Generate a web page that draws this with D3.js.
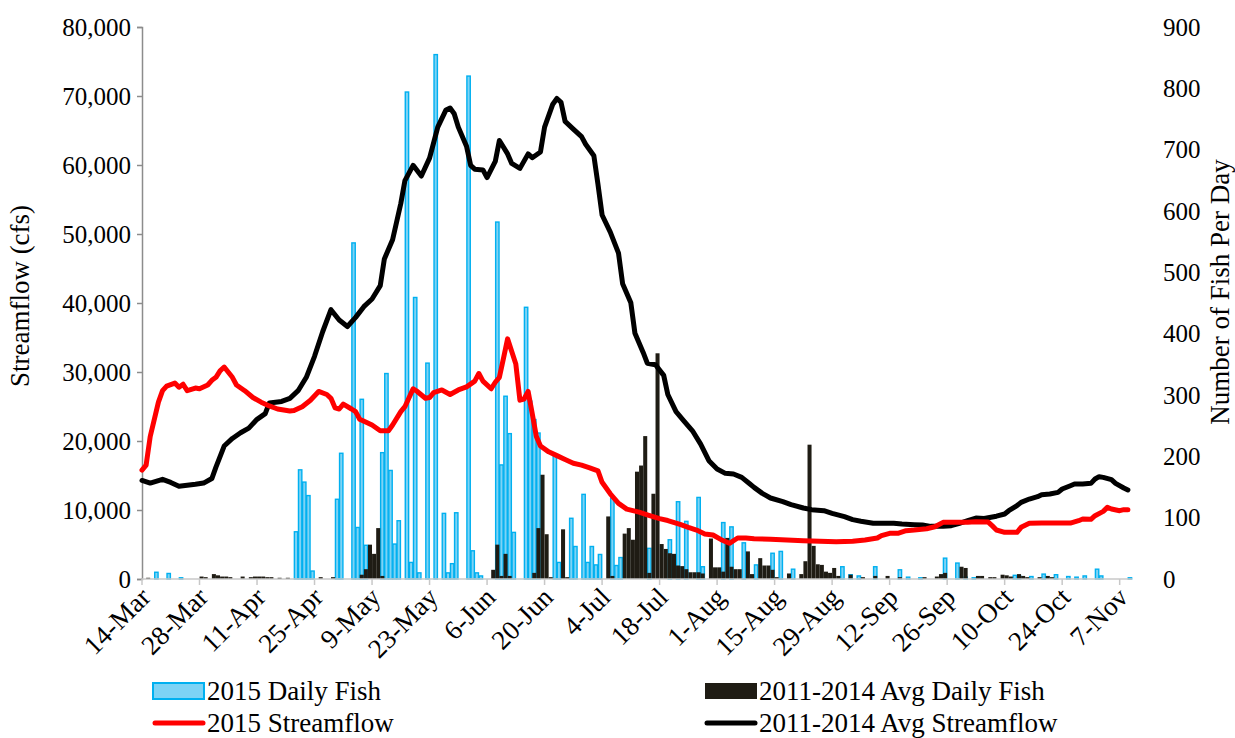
<!DOCTYPE html>
<html lang="en">
  <head>
    <meta charset="UTF-8">
    <title>Daily Fish and Streamflow</title>
    <script src="https://d3js.org/d3.v7.min.js"></script>
    <style>
      body { margin: 0; background: #fff; }
      svg { display: block; font-family: "Liberation Serif", "Times New Roman", serif; }
      .tick text { font-size: 25px; fill: #000; }
    </style>
  </head>
  <body>
  <script>
    // day offsets are counted from 14-Mar
    const tickLabels = ["14-Mar", "28-Mar", "11-Apr", "25-Apr", "9-May", "23-May", "6-Jun",
      "20-Jun", "4-Jul", "18-Jul", "1-Aug", "15-Aug", "29-Aug", "12-Sep", "26-Sep",
      "10-Oct", "24-Oct", "7-Nov"];

    // 2015 daily fish [day, count]
    const fish2015 = [[3, 11], [6, 9], [9, 2], [37, 77], [38, 178], [39, 158], [40, 136], [41, 13],
      [47, 130], [48, 205], [51, 548], [52, 84], [53, 293], [54, 55], [58, 206], [59, 335],
      [60, 177], [61, 57], [62, 95], [64, 794], [65, 27], [66, 459], [67, 10], [69, 352],
      [71, 855], [73, 107], [74, 10], [75, 25], [76, 108], [79, 820], [80, 46], [81, 10],
      [82, 5], [86, 582], [87, 186], [88, 298], [89, 237], [90, 76], [93, 443], [94, 290],
      [95, 260], [96, 238], [100, 200], [101, 27], [104, 99], [105, 53], [107, 138], [108, 27],
      [109, 53], [110, 23], [111, 40], [114, 132], [115, 22], [116, 35], [123, 50], [128, 64],
      [130, 126], [132, 94], [135, 133], [136, 20], [141, 92], [143, 85], [146, 59], [149, 23],
      [153, 42], [155, 45], [158, 16], [170, 20], [172, 7], [174, 5], [178, 20], [184, 15],
      [186, 3], [189, 2], [195, 34], [198, 26], [200, 3], [202, 2], [212, 6], [213, 5],
      [216, 4], [219, 8], [222, 7], [225, 4], [227, 3], [229, 5], [232, 16], [233, 5], [240, 2]];

    // 2011-2014 average daily fish [day, count]
    const fishAvg = [[1, 2], [14, 4], [15, 3], [17, 8], [18, 6], [19, 4], [20, 4], [21, 3],
      [24, 4], [26, 3], [27, 4], [28, 4], [29, 4], [30, 3], [31, 3], [33, 2], [35, 2], [43, 3],
      [46, 3], [53, 7], [54, 16], [55, 56], [56, 41], [57, 83], [58, 5], [85, 15], [86, 56],
      [87, 5], [88, 41], [89, 5], [95, 10], [96, 83], [97, 170], [98, 73], [99, 3], [102, 81],
      [103, 3], [113, 102], [114, 5], [117, 74], [118, 83], [119, 64], [120, 175], [121, 185],
      [122, 233], [123, 10], [124, 139], [125, 368], [126, 57], [127, 49], [128, 42], [129, 41],
      [130, 22], [131, 21], [132, 16], [133, 11], [134, 11], [135, 11], [136, 9], [138, 66],
      [139, 19], [140, 19], [141, 12], [142, 67], [143, 20], [144, 16], [145, 16], [147, 45],
      [148, 8], [150, 34], [151, 22], [152, 22], [153, 15], [154, 3], [157, 9], [160, 8],
      [161, 29], [162, 219], [163, 54], [164, 24], [165, 23], [166, 12], [167, 10], [168, 18],
      [169, 5], [172, 7], [175, 3], [178, 5], [181, 5], [184, 3], [190, 3], [193, 4], [194, 8],
      [195, 10], [199, 20], [200, 18], [203, 5], [204, 5], [206, 3], [207, 3], [209, 7],
      [210, 6], [211, 4], [213, 8], [214, 5], [215, 3], [218, 3], [220, 5], [221, 3]];

    // 2015 streamflow (cfs) [day, flow]
    const flow2015 = [[0, 15780], [1, 16500], [2, 20650], [4, 25630], [5, 27290], [6, 27960],
      [8, 28400], [9, 27800], [10, 28230], [11, 27290], [13, 27680], [14, 27570], [16, 28120],
      [17, 28790], [18, 29230], [19, 30170], [20, 30720], [22, 29230], [23, 28120], [25, 27290],
      [27, 26300], [29, 25630], [31, 25080], [33, 24640], [36, 24360], [37, 24410], [39, 24970],
      [41, 25910], [43, 27180], [45, 26740], [46, 26190], [47, 24800], [48, 24640], [49, 25350],
      [51, 24640], [52, 24250], [53, 23140], [56, 22310], [58, 21480], [60, 21480], [61, 22310],
      [63, 24250], [64, 24970], [66, 27570], [67, 27180], [69, 26190], [70, 26300], [71, 27010],
      [73, 27400], [75, 26740], [77, 27400], [79, 27850], [81, 28680], [82, 29780], [83, 28680],
      [85, 27570], [86, 28510], [87, 29230], [88, 32000], [89, 34800], [91, 31170], [92, 25910],
      [93, 26080], [94, 27180], [95, 23970], [96, 20650], [97, 19270], [99, 18430], [101, 17880],
      [103, 17330], [105, 16770], [107, 16500], [109, 16110], [111, 15670], [112, 14010],
      [114, 12350], [116, 10960], [118, 10130], [121, 9690], [123, 9300], [126, 8750],
      [128, 8470], [131, 7920], [133, 7470], [135, 7090], [137, 6530], [139, 6370], [141, 5700],
      [143, 5170], [145, 5940], [147, 5940], [149, 5840], [153, 5750], [157, 5650], [161, 5550],
      [165, 5460], [169, 5410], [173, 5460], [176, 5650], [179, 5940], [180, 6280], [182, 6620],
      [184, 6620], [186, 7000], [188, 7100], [191, 7290], [193, 7580], [195, 8210], [197, 8210],
      [201, 8210], [203, 8310], [206, 8250], [207, 7700], [208, 7100], [210, 6760], [213, 6760],
      [214, 7490], [216, 8070], [219, 8110], [223, 8110], [226, 8110], [228, 8450], [229, 8690],
      [231, 8650], [232, 9180], [234, 9800], [235, 10380], [236, 10140], [238, 9900],
      [239, 10050], [240, 10050]];

    // 2011-2014 average streamflow (cfs) [day, flow]
    const flowAvg = [[0, 14280], [2, 13900], [5, 14450], [7, 14000], [9, 13450], [13, 13730],
      [15, 13900], [17, 14560], [18, 16220], [20, 19270], [22, 20370], [24, 21200], [26, 21870],
      [28, 23140], [30, 23970], [31, 25520], [34, 25740], [36, 26190], [38, 27290], [40, 29230],
      [42, 32270], [44, 35870], [46, 39030], [48, 37530], [50, 36590], [52, 37920], [54, 39470],
      [56, 40580], [58, 42520], [59, 46390], [61, 49160], [63, 54420], [64, 57740], [66, 59950],
      [68, 58400], [70, 61000], [72, 65490], [74, 67980], [75, 68260], [76, 67430], [77, 65490],
      [79, 62720], [80, 59950], [81, 59400], [83, 59290], [84, 58180], [86, 60510], [87, 63550],
      [89, 61610], [90, 60230], [92, 59510], [94, 61610], [95, 61060], [97, 61890], [98, 65490],
      [100, 68810], [101, 69640], [102, 69090], [103, 66320], [105, 65210], [107, 64110],
      [108, 63000], [110, 61340], [111, 57190], [112, 52760], [114, 50270], [116, 47220],
      [117, 42790], [119, 40030], [120, 35600], [122, 32830], [123, 31280], [125, 31060],
      [127, 29510], [128, 26740], [130, 24250], [132, 22860], [134, 21480], [136, 19540],
      [138, 17150], [140, 15940], [142, 15310], [144, 15210], [146, 14730], [148, 13770],
      [149, 13280], [151, 12410], [153, 11740], [156, 11210], [158, 10770], [161, 10290],
      [163, 10050], [166, 9900], [168, 9520], [171, 9030], [173, 8600], [175, 8360], [178, 8070],
      [180, 8070], [183, 8070], [185, 7970], [188, 7870], [190, 7820], [192, 7630], [195, 7630],
      [197, 7730], [199, 8070], [201, 8450], [203, 8840], [205, 8760], [208, 9100], [210, 9420],
      [211, 9900], [213, 10630], [214, 11110], [216, 11590], [218, 11930], [219, 12220],
      [221, 12320], [223, 12560], [224, 13040], [226, 13520], [227, 13770], [229, 13770],
      [231, 13860], [232, 14490], [233, 14830], [234, 14730], [236, 14390], [237, 13860],
      [239, 13190], [240, 12900]];

    const W = 1235, H = 738;
    const plot = {left: 142, right: 1132, top: 27, bottom: 579};

    const svg = d3.select('body').append('svg')
        .attr('width', W)
        .attr('height', H);

    const x = d3.scaleLinear().domain([0, 241]).range([plot.left, plot.right]);
    const yFlow = d3.scaleLinear().domain([0, 80000]).range([plot.bottom, plot.top]);
    const yFish = d3.scaleLinear().domain([0, 900]).range([plot.bottom, plot.top]);
    const slot = x(1) - x(0);

    // bars - 2015 first, averages drawn on top
    const bw = slot * 0.82;
    svg.append('g').selectAll('rect')
        .data(fish2015)
        .join('rect')
        .attr('x', d => x(d[0] + 0.5) - bw / 2)
        .attr('y', d => yFish(d[1]))
        .attr('width', bw)
        .attr('height', d => yFish(0) - yFish(d[1]))
        .attr('fill', '#7dd3f5')
        .attr('stroke', '#00b0f0')
        .attr('stroke-width', 1.4);

    const bk = slot * 0.98;
    svg.append('g').selectAll('rect')
        .data(fishAvg)
        .join('rect')
        .attr('x', d => x(d[0] + 0.5) - bk / 2)
        .attr('y', d => yFish(d[1]))
        .attr('width', bk)
        .attr('height', d => yFish(0) - yFish(d[1]))
        .attr('fill', '#1f1c14');

    // axes
    const leftAxis = svg.append('g')
        .attr('transform', `translate(${plot.left},0)`)
        .call(d3.axisLeft(yFlow).tickValues(d3.range(0, 80001, 10000))
            .tickFormat(d3.format(',')).tickSize(5).tickPadding(6))
        .attr('font-family', null).attr('font-size', null);
    leftAxis.selectAll('.domain, line').attr('stroke', '#8c8c8c').attr('stroke-width', 1.5);

    const rightAxis = svg.append('g')
        .attr('transform', `translate(${plot.right},0)`)
        .call(d3.axisRight(yFish).tickValues(d3.range(0, 901, 100)).tickSize(0).tickPadding(31))
        .attr('font-family', null).attr('font-size', null);
    rightAxis.select('.domain').remove();

    const bottom = svg.append('g');
    bottom.append('line')
        .attr('x1', plot.left).attr('x2', plot.right)
        .attr('y1', plot.bottom).attr('y2', plot.bottom)
        .attr('stroke', '#c8c8c8').attr('stroke-width', 1.5);
    bottom.selectAll('line.tk')
        .data(tickLabels)
        .join('line')
        .attr('class', 'tk')
        .attr('x1', (_, i) => x(i * 14)).attr('x2', (_, i) => x(i * 14))
        .attr('y1', plot.bottom).attr('y2', plot.bottom + 6)
        .attr('stroke', '#c8c8c8').attr('stroke-width', 1.5);
    bottom.selectAll('text')
        .data(tickLabels)
        .join('text')
        .attr('transform', (_, i) => `translate(${x(i * 14) + 10},${plot.bottom + 20}) rotate(-45)`)
        .attr('text-anchor', 'end')
        .style('font-size', '27px')
        .text(d => d);

    // streamflow lines
    const line = d3.line()
        .x(d => x(d[0]))
        .y(d => yFlow(d[1]));

    svg.append('path')
        .datum(flowAvg)
        .attr('d', line)
        .attr('fill', 'none')
        .attr('stroke', '#000')
        .attr('stroke-width', 5)
        .attr('stroke-linejoin', 'round')
        .attr('stroke-linecap', 'round');

    svg.append('path')
        .datum(flow2015)
        .attr('d', line)
        .attr('fill', 'none')
        .attr('stroke', '#ff0000')
        .attr('stroke-width', 5)
        .attr('stroke-linejoin', 'round')
        .attr('stroke-linecap', 'round');

    // axis titles
    svg.append('text')
        .attr('transform', 'translate(29,296) rotate(-90)')
        .attr('text-anchor', 'middle')
        .style('font-size', '27px')
        .text('Streamflow (cfs)');
    svg.append('text')
        .attr('transform', 'translate(1229,292) rotate(-90)')
        .attr('text-anchor', 'middle')
        .style('font-size', '27px')
        .text('Number of Fish Per Day');

    // legend
    const legend = svg.append('g').style('font-size', '27px');
    legend.append('rect').attr('x', 153).attr('y', 683).attr('width', 51).attr('height', 16)
        .attr('fill', '#7dd3f5').attr('stroke', '#00b0f0').attr('stroke-width', 2);
    legend.append('text').attr('x', 207).attr('y', 700).text('2015 Daily Fish');
    legend.append('line').attr('x1', 155).attr('x2', 203).attr('y1', 723).attr('y2', 723)
        .attr('stroke', '#ff0000').attr('stroke-width', 5).attr('stroke-linecap', 'round');
    legend.append('text').attr('x', 207).attr('y', 732).text('2015 Streamflow');

    legend.append('rect').attr('x', 705).attr('y', 683).attr('width', 52).attr('height', 16)
        .attr('fill', '#1f1c14');
    legend.append('text').attr('x', 759).attr('y', 700).text('2011-2014 Avg Daily Fish');
    legend.append('line').attr('x1', 707).attr('x2', 755).attr('y1', 723).attr('y2', 723)
        .attr('stroke', '#000').attr('stroke-width', 5).attr('stroke-linecap', 'round');
    legend.append('text').attr('x', 759).attr('y', 732).text('2011-2014 Avg Streamflow');
  </script>
  </body>
</html>
